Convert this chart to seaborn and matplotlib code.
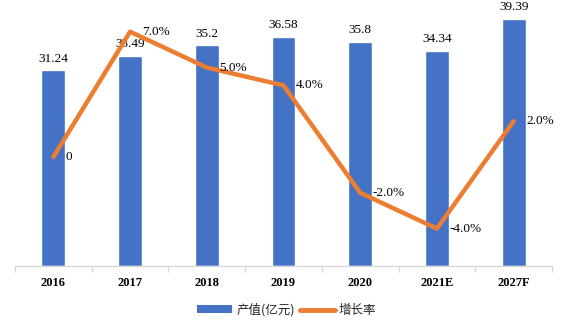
import numpy as np
import pandas as pd
import matplotlib
matplotlib.use("Agg")
import matplotlib.pyplot as plt
import seaborn as sns
from matplotlib.patches import Patch
from matplotlib.lines import Line2D

years = ["2016", "2017", "2018", "2019", "2020", "2021E", "2027F"]
output_values = [31.24, 33.49, 35.2, 36.58, 35.8, 34.34, 39.39]
output_labels = ["31.24", "33.49", "35.2", "36.58", "35.8", "34.34", "39.39"]
growth_values = [0.0, 7.0, 5.0, 4.0, -2.0, -4.0, 2.0]
growth_labels = ["0", "7.0%", "5.0%", "4.0%", "-2.0%", "-4.0%", "2.0%"]
legend_names = ["产值(亿元)", "增长率"]

sns.set_theme(style="white")
plt.rcParams["font.family"] = ["Liberation Serif", "Noto Sans CJK SC"]

BLUE = "#4472C4"
ORANGE = "#ED7D31"

W, H = 562, 321
fig = plt.figure(figsize=(W / 100, H / 100), dpi=100)
left, right, bot, top = 15, 552, 266, 5
ax = fig.add_axes([left / W, (H - bot) / H, (right - left) / W, (bot - top) / H])

df = pd.DataFrame({"year": years, "value": output_values})
sns.barplot(data=df, x="year", y="value", color=BLUE, width=0.31, ax=ax,
            saturation=1, order=years)
ax.bar_label(ax.containers[0], labels=output_labels, padding=4, fontsize=9.5, color="black")

# scale: 6.27 px per unit
ax.set_ylim(0, (bot - top) / 6.27)
ax.set_xlim(-0.5, len(years) - 0.5)

ax2 = ax.twinx()
ax2.set_position(ax.get_position())
gdf = pd.DataFrame({"x": np.arange(len(years)), "g": growth_values})
sns.lineplot(data=gdf, x="x", y="g", color=ORANGE, linewidth=3.2, ax=ax2, sort=False)
# scale: 17.9 px per percent, zero at y=157
ppp = 17.9
ax2.set_ylim(-(bot - 157) / ppp, (157 - top) / ppp)
for i, (g, lab) in enumerate(zip(growth_values, growth_labels)):
    ax2.annotate(lab, (i, g), xytext=(9, 0), textcoords="offset points",
                 ha="left", va="center", fontsize=9.5, color="black")

for a in (ax, ax2):
    for s in ["top", "right", "left"]:
        a.spines[s].set_visible(False)
    a.set_yticks([])
    a.set_ylabel("")
    a.set_xlabel("")
ax2.spines["bottom"].set_visible(False)
ax.spines["bottom"].set_color("#D9D9D9")
ax.spines["bottom"].set_linewidth(1)

ax.set_xticks(range(len(years)))
ax.set_xticklabels(years, fontsize=9, fontweight="bold", color="black")
ax.tick_params(axis="x", which="major", length=0, pad=8)
ax.set_xticks(np.arange(-0.5, len(years), 1.0), minor=True)
ax.tick_params(axis="x", which="minor", length=4, color="#D9D9D9", width=1, bottom=True)
ax2.set_xlim(ax.get_xlim())
ax2.tick_params(axis="x", bottom=False, labelbottom=False)

handles = [Patch(facecolor=BLUE, edgecolor="none"),
           Line2D([0], [0], color=ORANGE, linewidth=3.5)]
leg = fig.legend(handles, legend_names, loc="center", bbox_to_anchor=(0.51, (H - 310) / H),
                 ncol=2, frameon=False, handlelength=2.8, handleheight=0.6,
                 columnspacing=0.4, handletextpad=0.3,
                 prop={"family": ["Noto Sans CJK SC"], "size": 9})

fig.savefig("out.png", dpi=100)
